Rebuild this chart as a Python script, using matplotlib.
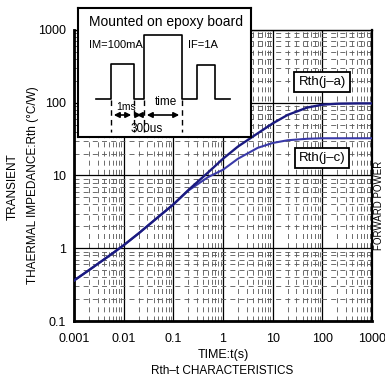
import matplotlib
matplotlib.use('Agg')
import matplotlib.pyplot as plt
from matplotlib.ticker import LogLocator, NullFormatter
import numpy as np

# data
t = [0.001, 0.002, 0.005, 0.01, 0.02, 0.05, 0.1, 0.2, 0.5, 1, 2, 5, 10, 20, 50, 100, 200, 500, 1000]
rth_ja = [0.36, 0.50, 0.78, 1.1, 1.6, 2.7, 4.0, 6.3, 11, 17, 25, 38, 52, 68, 86, 94, 97, 98, 98]
rth_jc = [0.36, 0.50, 0.78, 1.1, 1.6, 2.7, 4.0, 6.2, 9.5, 12, 17, 24, 28, 30.5, 32, 32.5, 32.5, 32.5, 32.5]
x_ticks = [0.001, 0.01, 0.1, 1, 10, 100, 1000]
x_labels = ['0.001', '0.01', '0.1', '1', '10', '100', '1000']
y_ticks = [0.1, 1, 10, 100, 1000]
y_labels = ['0.1', '1', '10', '100', '1000']

W, H = 385, 381
plt.rcParams['font.family'] = ['Liberation Sans', 'DejaVu Sans']
fig = plt.figure(figsize=(W / 100, H / 100), dpi=100)

def fx(px):
    return px / W

def fy(py):
    return 1 - py / H

ax = fig.add_axes([fx(74), fy(321), fx(372) - fx(74), fy(30) - fy(321)])
ax.set_xscale('log')
ax.set_yscale('log')
ax.set_xlim(0.001, 1000)
ax.set_ylim(0.1, 1000)

ax.set_xticks(x_ticks)
ax.set_xticklabels(x_labels)
ax.set_yticks(y_ticks)
ax.set_yticklabels(y_labels)
ax.xaxis.set_minor_locator(LogLocator(base=10, subs=np.arange(2, 10)))
ax.yaxis.set_minor_locator(LogLocator(base=10, subs=np.arange(2, 10)))
ax.xaxis.set_minor_formatter(NullFormatter())
ax.yaxis.set_minor_formatter(NullFormatter())
ax.tick_params(axis='both', which='major', length=0, labelsize=9)
ax.tick_params(axis='x', which='major', pad=9)
ax.tick_params(axis='y', which='major', pad=6)
ax.tick_params(axis='both', which='minor', length=0)

ax.grid(True, which='major', color='black', lw=0.9)
ax.grid(True, which='minor', color='#555555', lw=0.6, linestyle=(0, (6, 5)))

for s in ['left', 'bottom']:
    ax.spines[s].set_linewidth(2)
ax.spines['right'].set_linewidth(1.6)
ax.spines['top'].set_linewidth(1.0)

ax.plot(t, rth_jc, color='#3a3aa8', lw=1.5, zorder=3)
ax.plot(t, rth_ja, color='#1a1a80', lw=1.7, zorder=4)

box = dict(boxstyle='square,pad=0.3', fc='white', ec='black', lw=1.3)
fig.text(fx(322), fy(82), 'Rth(j\u2013a)', fontsize=9.5, ha='center', va='center',
         bbox=box, zorder=10)
fig.text(fx(322), fy(158), 'Rth(j\u2013c)', fontsize=9.5, ha='center', va='center',
         bbox=box, zorder=10)

# axis labels
fig.text(fx(13), fy(187), 'TRANSIENT', rotation=90, fontsize=8.5, ha='center', va='center')
fig.text(fx(33), fy(185), 'THAERMAL IMPEDANCE:Rth (\u00b0C/W)', rotation=90, fontsize=8.5,
         ha='center', va='center')
fig.text(fx(223), fy(355), 'TIME:t(s)', fontsize=9, ha='center', va='center')
fig.text(fx(222), fy(371), 'Rth\u2013t CHARACTERISTICS', fontsize=8.5, ha='center', va='center')
fig.text(fx(374), fy(205), 'FORWARD POWER', rotation=90, fontsize=7, ha='left', va='center')

# inset with pulse diagram, drawn in pixel coordinates
ins = fig.add_axes([fx(78), fy(137), fx(251) - fx(78), fy(8) - fy(137)])
ins.set_xlim(78, 251)
ins.set_ylim(137, 8)
ins.set_xticks([])
ins.set_yticks([])
for s in ins.spines.values():
    s.set_linewidth(1.5)
ins.set_zorder(5)

ins.text(166, 22, 'Mounted on epoxy board', fontsize=10, ha='center', va='center')
ins.text(89, 45, 'IM=100mA', fontsize=8, ha='left', va='center')
ins.text(188, 45, 'IF=1A', fontsize=8, ha='left', va='center')

wave_x = [96, 111, 111, 134, 134, 144, 144, 182, 182, 197, 197, 215, 215, 230]
wave_y = [99, 99, 64, 64, 99, 99, 35, 35, 99, 99, 65, 65, 99, 99]
ins.plot(wave_x, wave_y, color='black', lw=1.2)
for xd in [111, 134, 144, 182]:
    ins.plot([xd, xd], [100, 132], color='black', lw=1, linestyle=(0, (4, 3)))
arr = dict(arrowstyle='<|-|>', color='black', lw=1.2, mutation_scale=8)
ins.annotate('', xy=(111, 115), xytext=(134, 115), arrowprops=arr)
ins.annotate('', xy=(134, 115), xytext=(144, 115), arrowprops=arr)
ins.annotate('', xy=(144, 115), xytext=(182, 115), arrowprops=arr)
ins.text(126, 107, '1ms', fontsize=7.5, ha='center', va='center')
ins.text(166, 102, 'time', fontsize=8.5, ha='center', va='center')
ins.text(147, 129, '300us', fontsize=8.5, ha='center', va='center')

fig.savefig('out.png', dpi=100)
